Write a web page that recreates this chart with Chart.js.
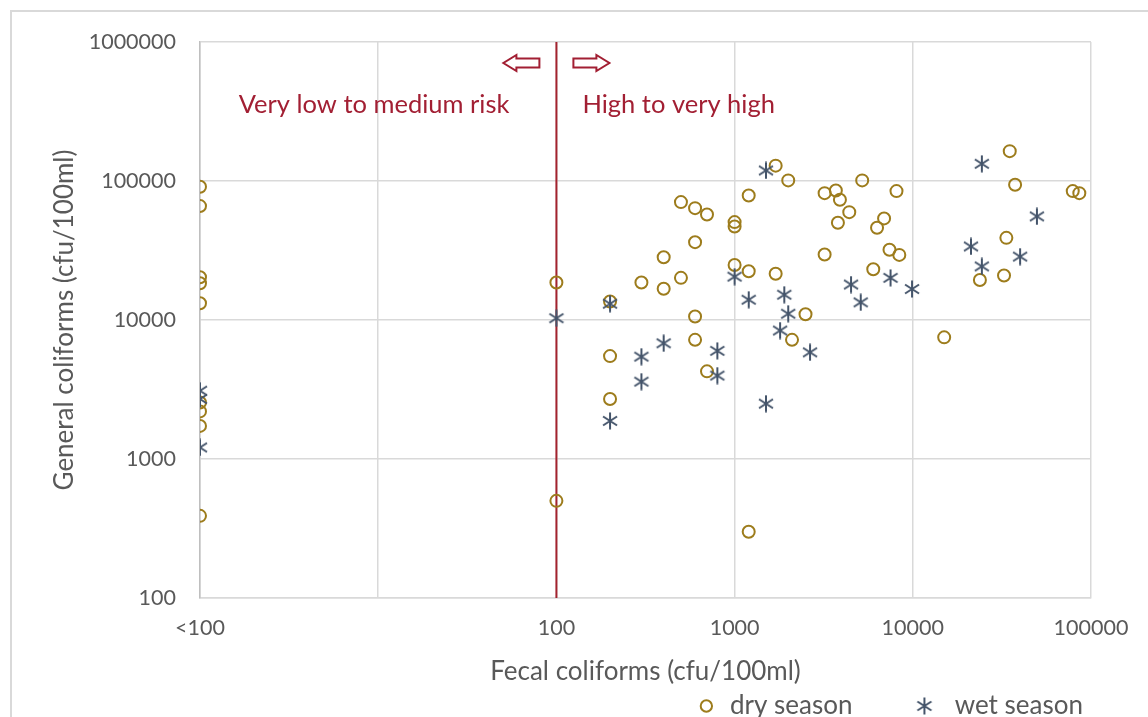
<!DOCTYPE html>
<html>
<head>
<meta charset="utf-8">
<script src="https://cdn.jsdelivr.net/npm/chart.js@4/dist/chart.umd.min.js"></script>
<style>
html,body{margin:0;padding:0;background:#fff;overflow:hidden;}
#wrap{width:1148px;height:729px;position:relative;}
</style>
</head>
<body>
<div id="wrap"><canvas id="chart"></canvas></div>
<script>
// fecal coliforms (x), "<100" is plotted at 1
const dryX = [1,1,1,1,1,1,1,1,1,
  100,100,
  200,200,200,300,400,400,500,500,600,600,600,600,700,700,
  1000,1000,1000,1200,1200,1200,1700,1700,2000,2100,2500,
  3200,3200,3700,3900,3800,4400,5200,6300,6900,6000,7400,8400,8100,
  15000,35000,37500,33500,32500,23800,79000,86000];
const dryY = [91000,66000,20300,18400,13200,2550,2200,1730,390,
  18600,500,
  13600,5500,2700,18600,28300,16800,70500,20100,63800,36300,10600,7200,57400,4270,
  50600,47100,24900,78700,22400,300,129000,21500,101000,7200,11000,
  81800,29600,85500,73300,50100,59700,101000,46100,53800,23200,32000,29400,84600,
  7500,164000,94000,39000,20900,19400,84600,81800];

const wetX = [1,1,1,
  100,200,200,300,300,400,800,800,
  1000,1200,1500,1500,1800,1900,2000,2650,
  4500,5100,7500,9900,21200,24400,24400,40000,49700];
const wetY = [3100,2700,1210,
  10300,13100,1880,5450,3600,6800,6000,3980,
  20500,14000,119000,2500,8400,15200,11100,5850,
  18000,13400,20100,16700,33800,133000,24300,28600,55600];

// risk threshold line at 100 cfu/100ml
const riskX = [100,100];
const riskY = [100,1000000];

const xTicks = [1,10,100,1000,10000,100000];
const yTicks = [100,1000,10000,100000,1000000];

const seriesNames = ["dry season","wet season"];

const FONT = "Lato";
const GREY = "#595959";
const RED = "#a21f33";
const DRY = "#9d7c1c";
const WET = "#44546a";

function pts(xs, ys){ return xs.map((x,i)=>({x:x, y:ys[i]})); }

// asterisk marker like the spreadsheet "star"
function makeStar(){
  const c = document.createElement("canvas");
  c.width = 18; c.height = 18;
  const g = c.getContext("2d");
  g.strokeStyle = WET; g.lineWidth = 2; g.lineCap = "butt";
  g.beginPath();
  g.moveTo(9,0.5); g.lineTo(9,17.5);
  g.moveTo(2,4.5); g.lineTo(16,13.5);
  g.moveTo(2,13.5); g.lineTo(16,4.5);
  g.stroke();
  return c;
}
const starImg = makeStar();

const framePlugin = {
  id:"frame",
  beforeDraw(chart){
    const ctx = chart.ctx;
    ctx.save();
    ctx.strokeStyle = "#d9d9d9";
    ctx.lineWidth = 2;
    ctx.strokeRect(11, 11, 1160, 740);
    ctx.restore();
  }
};

function arrow(ctx, x, y, dir){
  // outline block arrow, dir = -1 left, 1 right
  const L = 36, head = 13, hh = 8, sh = 4.5;
  ctx.beginPath();
  const tip = x + dir*L;
  ctx.moveTo(x, y - sh);
  ctx.lineTo(tip - dir*head, y - sh);
  ctx.lineTo(tip - dir*head, y - hh);
  ctx.lineTo(tip, y);
  ctx.lineTo(tip - dir*head, y + hh);
  ctx.lineTo(tip - dir*head, y + sh);
  ctx.lineTo(x, y + sh);
  ctx.closePath();
  ctx.stroke();
}

const riskLabels = {
  id:"riskLabels",
  afterDatasetsDraw(chart){
    const ctx = chart.ctx;
    const xs = chart.scales.x;
    const top = chart.chartArea.top;
    const lx = xs.getPixelForValue(100);
    ctx.save();
    ctx.strokeStyle = RED;
    ctx.lineWidth = 2;
    arrow(ctx, lx - 17, top + 21, -1);
    arrow(ctx, lx + 17, top + 21, 1);
    ctx.fillStyle = RED;
    ctx.font = "25.5px " + FONT;
    ctx.textBaseline = "middle";
    ctx.textAlign = "right";
    ctx.fillText("Very low to medium risk", lx - 47, top + 63);
    ctx.textAlign = "left";
    ctx.fillText("High to very high", lx + 26, top + 63);
    ctx.restore();
  }
};

const legendGaps = [" ", "  "];
const legendTails = ["         ", ""];

new Chart(document.getElementById("chart"), {
  type:"scatter",
  data:{
    datasets:[
      {
        label:seriesNames[0],
        data:pts(dryX, dryY),
        pointStyle:"circle",
        pointRadius:6,
        pointHoverRadius:6,
        borderWidth:2,
        borderColor:DRY,
        backgroundColor:"rgba(0,0,0,0)",
        order:2
      },
      {
        label:seriesNames[1],
        data:pts(wetX, wetY),
        pointStyle:starImg,
        pointRadius:8,
        borderColor:WET,
        backgroundColor:WET,
        order:1
      },
      {
        label:"threshold",
        data:pts(riskX, riskY),
        showLine:true,
        borderColor:"#a3232f",
        borderWidth:2,
        pointRadius:0,
        order:3
      }
    ]
  },
  options:{
    responsive:true,
    maintainAspectRatio:false,
    animation:false,
    events:[],
    layout:{padding:{left:0, right:57, top:42, bottom:0}},
    plugins:{
      tooltip:{enabled:false},
      legend:{
        position:"bottom",
        align:"end",
        labels:{
          generateLabels:(chart)=>Chart.defaults.plugins.legend.labels.generateLabels(chart)
            .filter(l=>l.datasetIndex < 2)
            .sort((a,b)=>a.datasetIndex - b.datasetIndex)
            .map(l=>Object.assign(l, {text: legendGaps[l.datasetIndex] + l.text + legendTails[l.datasetIndex]})),
          usePointStyle:true,
          boxWidth:8,
          boxHeight:8,
          padding:8,
          color:GREY,
          font:{family:FONT, size:26}
        }
      }
    },
    scales:{
      x:{
        type:"logarithmic",
        min:1,
        max:100000,
        afterBuildTicks:(s)=>{ s.ticks = xTicks.map(v=>({value:v})); },
        afterFit:(s)=>{ s.height = 87; s.paddingLeft = 0; s.paddingRight = 0; },
        ticks:{
          autoSkip:false,
          maxRotation:0,
          padding:17,
          color:GREY,
          font:{family:FONT, size:21.5},
          callback:(v)=> v === 1 ? "<100" : (v === 10 ? "" : String(v))
        },
        grid:{
          drawTicks:false,
          color:"#d9d9d9",
          lineWidth:1.5
        },
        border:{color:"#d9d9d9", width:1.5},
        title:{
          display:true,
          text:"Fecal coliforms (cfu/100ml)",
          color:GREY,
          font:{family:FONT, size:26, lineHeight:1},
          padding:{top:0, bottom:0}
        }
      },
      y:{
        type:"logarithmic",
        min:100,
        max:1000000,
        afterBuildTicks:(s)=>{ s.ticks = yTicks.map(v=>({value:v})); },
        afterFit:(s)=>{ s.width = 200; s.paddingTop = 0; s.paddingBottom = 0; },
        ticks:{
          padding:24,
          color:GREY,
          font:{family:FONT, size:21.5},
          callback:(v)=>String(v)
        },
        grid:{
          drawTicks:false,
          color:"#d9d9d9",
          lineWidth:1.5
        },
        border:{color:"#bfbfbf", width:1.5},
        title:{
          display:true,
          text:"General coliforms (cfu/100ml)",
          color:GREY,
          font:{family:FONT, size:26},
          padding:{top:49, bottom:0}
        }
      }
    }
  },
  plugins:[framePlugin, riskLabels]
});
</script>
</body>
</html>
